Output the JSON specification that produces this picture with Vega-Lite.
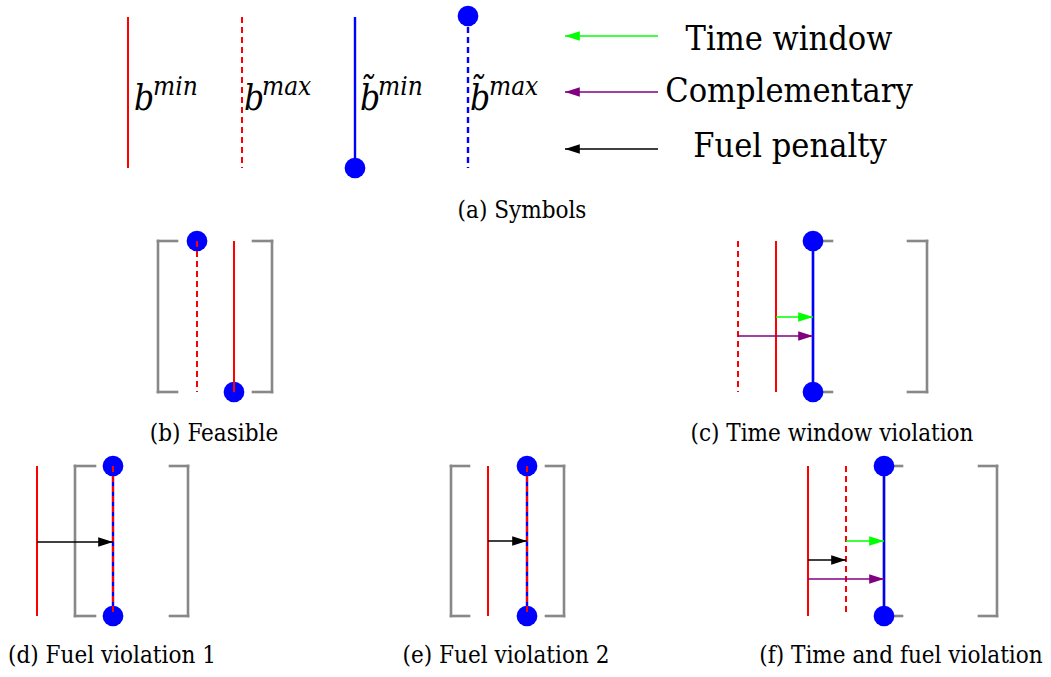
{
  "$schema": "https://vega.github.io/schema/vega-lite/v6.json",
  "width": 1051,
  "height": 677,
  "padding": 0,
  "autosize": {"type": "fit", "contains": "padding"},
  "background": "white",
  "config": {"view": {"stroke": null}},
  "datasets": {
    "segments": [
      {"x": 128, "y": 17, "x2": 128, "y2": 168, "kind": "min"},
      {"x": 242, "y": 17, "x2": 242, "y2": 168, "kind": "max"},
      {"x": 355, "y": 17, "x2": 355, "y2": 168, "kind": "tmin"},
      {"x": 468, "y": 17, "x2": 468, "y2": 168, "kind": "tmax"},

      {"x": 158, "y": 241, "x2": 158, "y2": 392, "kind": "bracket"},
      {"x": 158, "y": 241, "x2": 177, "y2": 241, "kind": "bracket"},
      {"x": 158, "y": 392, "x2": 177, "y2": 392, "kind": "bracket"},
      {"x": 272, "y": 241, "x2": 272, "y2": 392, "kind": "bracket"},
      {"x": 253, "y": 241, "x2": 272, "y2": 241, "kind": "bracket"},
      {"x": 253, "y": 392, "x2": 272, "y2": 392, "kind": "bracket"},
      {"x": 197, "y": 241, "x2": 197, "y2": 392, "kind": "max"},
      {"x": 234, "y": 241, "x2": 234, "y2": 392, "kind": "min"},

      {"x": 813, "y": 241, "x2": 813, "y2": 392, "kind": "bracket"},
      {"x": 813, "y": 241, "x2": 832, "y2": 241, "kind": "bracket"},
      {"x": 813, "y": 392, "x2": 832, "y2": 392, "kind": "bracket"},
      {"x": 927, "y": 241, "x2": 927, "y2": 392, "kind": "bracket"},
      {"x": 908, "y": 241, "x2": 927, "y2": 241, "kind": "bracket"},
      {"x": 908, "y": 392, "x2": 927, "y2": 392, "kind": "bracket"},
      {"x": 738, "y": 241, "x2": 738, "y2": 392, "kind": "max"},
      {"x": 776, "y": 241, "x2": 776, "y2": 392, "kind": "min"},
      {"x": 813, "y": 241, "x2": 813, "y2": 392, "kind": "tmin"},

      {"x": 75, "y": 466, "x2": 75, "y2": 616, "kind": "bracket"},
      {"x": 75, "y": 466, "x2": 95, "y2": 466, "kind": "bracket"},
      {"x": 75, "y": 616, "x2": 95, "y2": 616, "kind": "bracket"},
      {"x": 188, "y": 466, "x2": 188, "y2": 616, "kind": "bracket"},
      {"x": 170, "y": 466, "x2": 188, "y2": 466, "kind": "bracket"},
      {"x": 170, "y": 616, "x2": 188, "y2": 616, "kind": "bracket"},
      {"x": 37, "y": 466, "x2": 37, "y2": 616, "kind": "min"},
      {"x": 113, "y": 466, "x2": 113, "y2": 616, "kind": "tmin"},
      {"x": 113, "y": 466, "x2": 113, "y2": 616, "kind": "max"},

      {"x": 451, "y": 466, "x2": 451, "y2": 616, "kind": "bracket"},
      {"x": 451, "y": 466, "x2": 469, "y2": 466, "kind": "bracket"},
      {"x": 451, "y": 616, "x2": 469, "y2": 616, "kind": "bracket"},
      {"x": 564, "y": 466, "x2": 564, "y2": 616, "kind": "bracket"},
      {"x": 546, "y": 466, "x2": 564, "y2": 466, "kind": "bracket"},
      {"x": 546, "y": 616, "x2": 564, "y2": 616, "kind": "bracket"},
      {"x": 488, "y": 466, "x2": 488, "y2": 616, "kind": "min"},
      {"x": 527, "y": 466, "x2": 527, "y2": 616, "kind": "tmin"},
      {"x": 527, "y": 466, "x2": 527, "y2": 616, "kind": "max"},

      {"x": 884, "y": 466, "x2": 884, "y2": 616, "kind": "bracket"},
      {"x": 884, "y": 466, "x2": 902, "y2": 466, "kind": "bracket"},
      {"x": 884, "y": 616, "x2": 902, "y2": 616, "kind": "bracket"},
      {"x": 997, "y": 466, "x2": 997, "y2": 616, "kind": "bracket"},
      {"x": 979, "y": 466, "x2": 997, "y2": 466, "kind": "bracket"},
      {"x": 979, "y": 616, "x2": 997, "y2": 616, "kind": "bracket"},
      {"x": 808, "y": 466, "x2": 808, "y2": 616, "kind": "min"},
      {"x": 846, "y": 466, "x2": 846, "y2": 616, "kind": "max"},
      {"x": 884, "y": 466, "x2": 884, "y2": 616, "kind": "tmin"}
    ],
    "dots": [
      {"x": 355, "y": 168},
      {"x": 468, "y": 16},
      {"x": 197, "y": 241},
      {"x": 234, "y": 392},
      {"x": 813, "y": 241},
      {"x": 813, "y": 392},
      {"x": 113, "y": 466},
      {"x": 113, "y": 616},
      {"x": 527, "y": 466},
      {"x": 527, "y": 616},
      {"x": 884, "y": 466},
      {"x": 884, "y": 616}
    ],
    "arrows": [
      {"x": 658, "x2": 565, "y": 36, "kind": "time", "dir": "left"},
      {"x": 658, "x2": 565, "y": 92, "kind": "comp", "dir": "left"},
      {"x": 658, "x2": 565, "y": 149, "kind": "fuel", "dir": "left"},
      {"x": 776, "x2": 813, "y": 317, "kind": "time", "dir": "right"},
      {"x": 738, "x2": 813, "y": 336, "kind": "comp", "dir": "right"},
      {"x": 37, "x2": 113, "y": 542, "kind": "fuel", "dir": "right"},
      {"x": 488, "x2": 527, "y": 541, "kind": "fuel", "dir": "right"},
      {"x": 846, "x2": 884, "y": 541, "kind": "time", "dir": "right"},
      {"x": 808, "x2": 846, "y": 560, "kind": "fuel", "dir": "right"},
      {"x": 808, "x2": 884, "y": 579, "kind": "comp", "dir": "right"}
    ],
    "bases": [
      {"text": "b", "x": 134, "y": 110},
      {"text": "b", "x": 244, "y": 110},
      {"text": "b\u0303", "x": 360, "y": 110},
      {"text": "b\u0303", "x": 470, "y": 110}
    ],
    "sups": [
      {"text": "min", "x": 153, "y": 95},
      {"text": "max", "x": 262, "y": 95},
      {"text": "min", "x": 378, "y": 95},
      {"text": "max", "x": 489, "y": 95}
    ],
    "legendLabels": [
      {"text": "Time window", "x": 789, "y": 50},
      {"text": "Complementary", "x": 789, "y": 102},
      {"text": "Fuel penalty", "x": 790, "y": 157}
    ],
    "captions": [
      {"text": "(a) Symbols", "x": 522, "y": 218},
      {"text": "(b) Feasible", "x": 214, "y": 441},
      {"text": "(c) Time window violation", "x": 832, "y": 441},
      {"text": "(d) Fuel violation 1", "x": 112, "y": 663},
      {"text": "(e) Fuel violation 2", "x": 506, "y": 663},
      {"text": "(f) Time and fuel violation", "x": 901, "y": 663}
    ]
  },
  "layer": [
    {
      "data": {"name": "segments"},
      "transform": [{"filter": "datum.kind == 'bracket'"}],
      "mark": {"type": "rule", "color": "#888888", "strokeWidth": 2.6, "strokeCap": "square"},
      "encoding": {
        "x": {"field": "x", "type": "quantitative", "scale": {"domain": [0, 1051], "nice": false, "zero": false}, "axis": null},
        "y": {"field": "y", "type": "quantitative", "scale": {"domain": [0, 677], "nice": false, "zero": false, "reverse": true}, "axis": null},
        "x2": {"field": "x2"},
        "y2": {"field": "y2"}
      }
    },
    {
      "data": {"name": "segments"},
      "transform": [{"filter": "datum.kind == 'tmin' || datum.kind == 'tmax'"}],
      "mark": {"type": "rule", "color": "#0000ff", "strokeWidth": 2.4},
      "encoding": {
        "x": {"field": "x", "type": "quantitative", "axis": null},
        "y": {"field": "y", "type": "quantitative", "axis": null},
        "x2": {"field": "x2"},
        "y2": {"field": "y2"},
        "strokeDash": {"field": "kind", "type": "nominal", "scale": {"domain": ["tmin", "tmax"], "range": [[1, 0], [6, 4]]}, "legend": null}
      }
    },
    {
      "data": {"name": "dots"},
      "mark": {"type": "point", "shape": "circle", "filled": true, "opacity": 1, "color": "#0000ff", "size": 430, "strokeWidth": 0},
      "encoding": {
        "x": {"field": "x", "type": "quantitative", "axis": null},
        "y": {"field": "y", "type": "quantitative", "axis": null}
      }
    },
    {
      "data": {"name": "segments"},
      "transform": [{"filter": "datum.kind == 'min' || datum.kind == 'max'"}],
      "mark": {"type": "rule", "color": "#ff0000", "strokeWidth": 2},
      "encoding": {
        "x": {"field": "x", "type": "quantitative", "axis": null},
        "y": {"field": "y", "type": "quantitative", "axis": null},
        "x2": {"field": "x2"},
        "y2": {"field": "y2"},
        "strokeDash": {"field": "kind", "type": "nominal", "scale": {"domain": ["min", "max"], "range": [[1, 0], [6, 4]]}, "legend": null}
      }
    },
    {
      "data": {"name": "arrows"},
      "mark": {"type": "rule", "strokeWidth": 1.3},
      "encoding": {
        "x": {"field": "x", "type": "quantitative", "axis": null},
        "y": {"field": "y", "type": "quantitative", "axis": null},
        "x2": {"field": "x2"},
        "color": {"field": "kind", "type": "nominal", "scale": {"domain": ["time", "comp", "fuel"], "range": ["#00ff00", "#800080", "#000000"]}, "legend": null}
      }
    },
    {
      "data": {"name": "arrows"},
      "mark": {"type": "point", "filled": true, "opacity": 1, "size": 220, "strokeWidth": 0},
      "encoding": {
        "x": {"field": "x2", "type": "quantitative", "axis": null},
        "y": {"field": "y", "type": "quantitative", "axis": null},
        "shape": {"field": "dir", "type": "nominal", "scale": {"domain": ["right", "left"], "range": ["M0,0L-2,-0.65L-2,0.65Z", "M0,0L2,-0.65L2,0.65Z"]}, "legend": null},
        "color": {"field": "kind", "type": "nominal", "scale": {"domain": ["time", "comp", "fuel"], "range": ["#00ff00", "#800080", "#000000"]}, "legend": null}
      }
    },
    {
      "data": {"name": "bases"},
      "mark": {"type": "text", "font": "DejaVu Serif Condensed", "fontStyle": "italic", "fontSize": 35, "align": "left", "baseline": "alphabetic", "color": "#000000"},
      "encoding": {
        "x": {"field": "x", "type": "quantitative", "axis": null},
        "y": {"field": "y", "type": "quantitative", "axis": null},
        "text": {"field": "text"}
      }
    },
    {
      "data": {"name": "sups"},
      "mark": {"type": "text", "font": "DejaVu Serif Condensed", "fontStyle": "italic", "fontSize": 26, "align": "left", "baseline": "alphabetic", "color": "#000000"},
      "encoding": {
        "x": {"field": "x", "type": "quantitative", "axis": null},
        "y": {"field": "y", "type": "quantitative", "axis": null},
        "text": {"field": "text"}
      }
    },
    {
      "data": {"name": "legendLabels"},
      "mark": {"type": "text", "font": "DejaVu Serif Condensed", "fontSize": 34, "align": "center", "baseline": "alphabetic", "color": "#000000"},
      "encoding": {
        "x": {"field": "x", "type": "quantitative", "axis": null},
        "y": {"field": "y", "type": "quantitative", "axis": null},
        "text": {"field": "text"}
      }
    },
    {
      "data": {"name": "captions"},
      "mark": {"type": "text", "font": "DejaVu Serif Condensed", "fontSize": 24, "align": "center", "baseline": "alphabetic", "color": "#000000"},
      "encoding": {
        "x": {"field": "x", "type": "quantitative", "axis": null},
        "y": {"field": "y", "type": "quantitative", "axis": null},
        "text": {"field": "text"}
      }
    }
  ]
}
